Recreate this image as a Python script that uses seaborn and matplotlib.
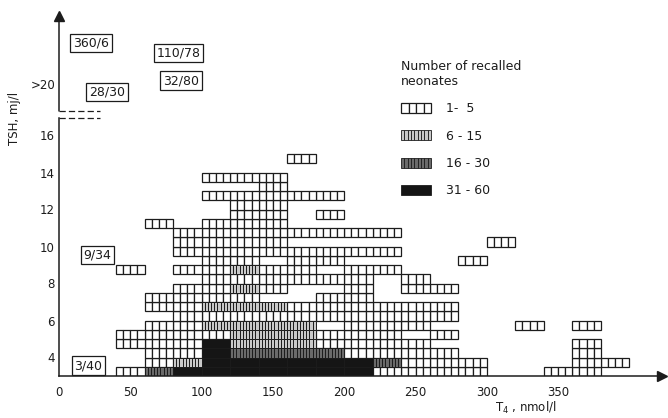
import numpy as np
import pandas as pd
import seaborn as sns
import matplotlib.pyplot as plt
from matplotlib.legend_handler import HandlerBase
from matplotlib.patches import Rectangle

# T4 classes (nmol/l), each 20 wide
t4_bins = [40, 60, 80, 100, 120, 140, 160, 180, 200, 220, 240, 260, 280, 300, 320, 340, 360, 380]
t4_width = 20
# TSH classes start at 3.0 mU/l, 0.5 high
tsh_start = 3.0
tsh_step = 0.5
# one string per T4 class, lowest TSH row first
# '.' none, 1 = 1-5, 2 = 6-15, 3 = 16-30, 4 = 31-60 recalled neonates
col_codes = [
    "1..11......1",              # 40
    "311111.11.......1",         # 60
    "4211111111.1.111",          # 80
    "44441212111111111..1.1",    # 100
    "44322212121211111111.1",    # 120
    "44322212.111.111111111",    # 140
    "44322211..1111.1...1...1",  # 160
    "44311.111.1.11.1.1.1",      # 180
    "441111111111.1.1",          # 200
    "13111111...1.1.1",          # 220
    "1111.111.11",               # 240
    "111.1.11.1",                # 260
    "11..........1",             # 280
    "..............1",           # 300
    ".....1",                    # 320
    "1",                         # 340
    "1111.1",                    # 360
    ".1",                        # 380
]

legend_labels = ["1-  5", "6 - 15", "16 - 30", "31 - 60"]

# boxed counts for values off the grid
box_labels = ["360/6", "110/78", "32/80", "28/30", "9/34", "3/40"]
box_t4 = [22.4, 83.8, 85.6, 33.7, 27.0, 20.7]
box_tsh = [21.0, 20.46, 18.97, 18.35, 9.54, 3.56]

ink = "#1c1c1c"
n_sub = {1: 4, 2: 9, 3: 9, 4: 1}
face = {1: "white", 2: "#c9c9c9", 3: "#6a6a6a", 4: "#151515"}

# unpack the grid
rows = []
for t4, codes in zip(t4_bins, col_codes):
    for j, ch in enumerate(codes):
        if ch != ".":
            rows.append((t4, tsh_start + j * tsh_step, int(ch)))
cells = pd.DataFrame(rows, columns=["t4", "tsh", "cat"])

sns.set_style("white")
plt.rcParams['font.family'] = ['DejaVu Sans']
plt.rcParams['text.color'] = ink
plt.rcParams['xtick.color'] = ink
plt.rcParams['ytick.color'] = ink

fig = plt.figure(figsize=(6.68, 4.18), dpi=100)
ax = fig.add_axes([59/668, 42/418, 605/668, 366/418])
ax.set_xlim(0, 605/1.426)
ax.set_ylim(3, 3 + 366/18.5)

for cat in [1, 2, 3, 4]:
    sub = cells[cells["cat"] == cat]
    n = n_sub[cat]
    w = t4_width / n
    for k in range(n):
        ax.bar(sub["t4"] + k * w, tsh_step, width=w, bottom=sub["tsh"], align="edge",
               color=face[cat], edgecolor=ink, linewidth=0.9 if cat == 1 else 0.7)

# axes
sns.despine(ax=ax)
ax.spines["left"].set_bounds(3, 16.95)
for s in ["left", "bottom"]:
    ax.spines[s].set_color(ink)
    ax.spines[s].set_linewidth(1.1)
ax.plot([0, 0], [17.3, 22.4], color=ink, lw=1.1, clip_on=False)
ax.plot(0, 22.45, marker="^", ms=7, color=ink, clip_on=False)
ax.plot(423, 3, marker=">", ms=7, color=ink, clip_on=False)
ax.plot([0, 29], [16.95, 16.95], color=ink, lw=0.9, ls=(0, (5, 2.5)), clip_on=False)
ax.plot([0, 29], [17.3, 17.3], color=ink, lw=0.9, ls=(0, (5, 2.5)), clip_on=False)

ax.set_yticks(range(4, 17, 2))
ax.set_xticks(range(0, 351, 50))
ax.tick_params(axis="y", direction="in", length=7, width=0.9, pad=3, labelsize=8.5)
ax.tick_params(axis="x", length=0, pad=7, labelsize=8.5)
ax.text(-2.5, 18.68, ">20", ha="right", va="center", fontsize=8.5)

ax.text(-31, 16.9, "TSH, mj/l", rotation=90, ha="center", va="center", fontsize=8.5)
ax.text(306, 1.3, "T$_4$ , nmol/l", ha="left", va="center", fontsize=8.5)

for s, x, y in zip(box_labels, box_t4, box_tsh):
    ax.text(x, y, s, ha="center", va="center", fontsize=9,
            bbox=dict(boxstyle="square,pad=0.22", fc="white", ec=ink, lw=0.9))


class CellKey:
    def __init__(self, cat):
        self.cat = cat


class CellHandler(HandlerBase):
    def create_artists(self, legend, orig_handle, xdescent, ydescent, width, height, fontsize, trans):
        cat = orig_handle.cat
        n = n_sub[cat]
        out = []
        for k in range(n):
            out.append(Rectangle((-xdescent + k * width / n, -ydescent), width / n, height,
                                 facecolor=face[cat], edgecolor=ink,
                                 lw=0.9 if cat == 1 else 0.6, transform=trans))
        return out


leg = ax.legend(handles=[CellKey(c) for c in [1, 2, 3, 4]], labels=legend_labels,
                handler_map={CellKey: CellHandler()},
                title="Number of recalled\nneonates", title_fontsize=9, fontsize=9,
                loc="upper left", bbox_to_anchor=(401/668, 1 - 60/418), bbox_transform=fig.transFigure,
                frameon=False, handlelength=2.4, handleheight=0.85, labelspacing=1.15,
                handletextpad=1.2, alignment="left", borderpad=0, borderaxespad=0)

fig.savefig("out.png", dpi=100)
